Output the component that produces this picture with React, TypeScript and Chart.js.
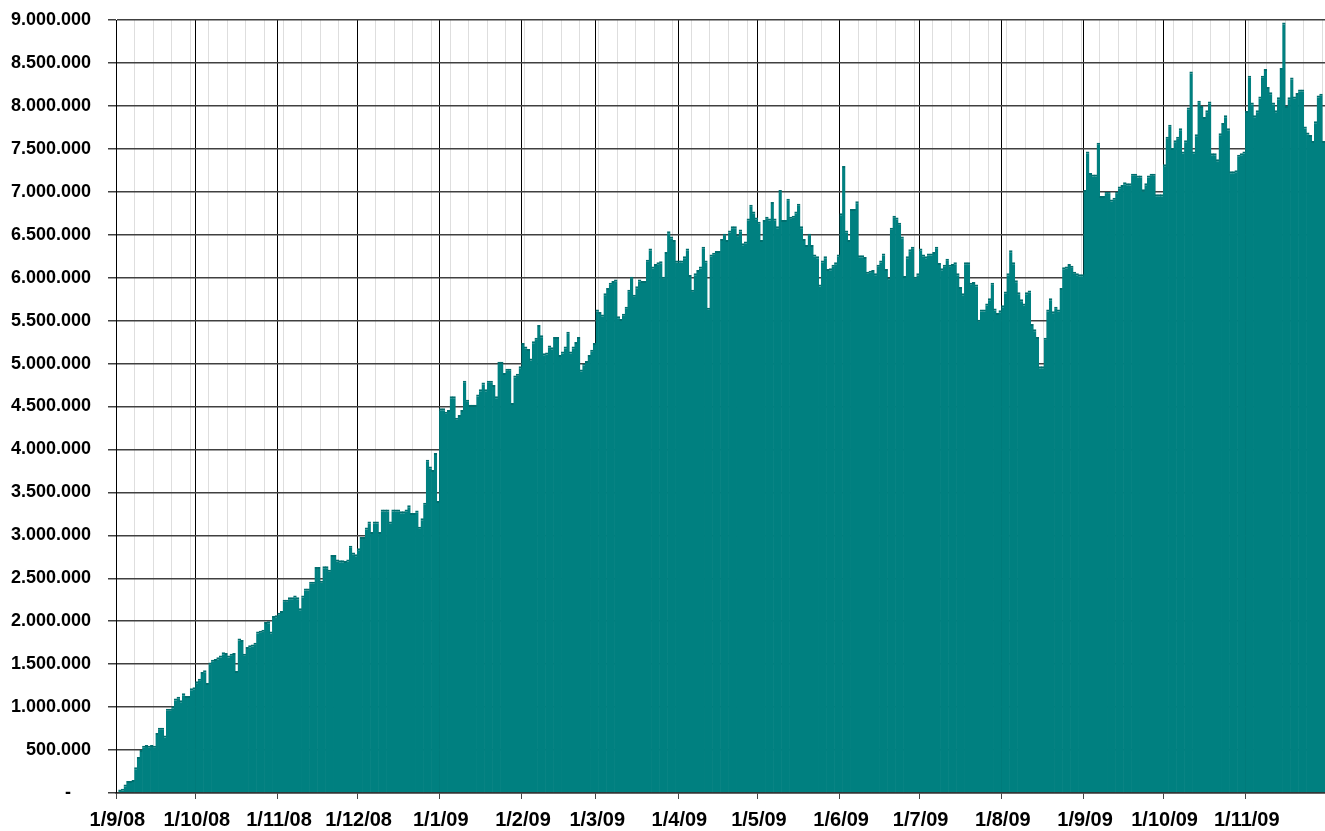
import { useEffect, useRef } from 'react';
import { Chart, registerables } from 'chart.js';

Chart.register(...registerables);

// Daily values in millions, one array per month (Sep 2008 .. Nov 2009)
const sep08 = [0, 0.04, 0.05, 0.10, 0.14, 0.14, 0.15, 0.30, 0.42, 0.50, 0.55, 0.56, 0.55, 0.56, 0.55, 0.70, 0.76, 0.76, 0.67, 0.98, 0.98, 1.01, 1.10, 1.12, 1.08, 1.16, 1.13, 1.13, 1.22, 1.23];
const oct08 = [1.30, 1.33, 1.41, 1.43, 1.28, 1.52, 1.55, 1.56, 1.58, 1.60, 1.64, 1.63, 1.60, 1.62, 1.63, 1.42, 1.80, 1.78, 1.62, 1.70, 1.72, 1.73, 1.75, 1.88, 1.89, 1.90, 1.99, 2.00, 1.88, 2.06, 2.07];
const nov08 = [2.10, 2.12, 2.25, 2.25, 2.28, 2.28, 2.30, 2.28, 2.15, 2.30, 2.38, 2.38, 2.46, 2.46, 2.63, 2.63, 2.47, 2.64, 2.64, 2.60, 2.77, 2.77, 2.72, 2.71, 2.71, 2.70, 2.72, 2.88, 2.80, 2.78];
const dec08 = [2.85, 2.98, 2.98, 3.09, 3.16, 3.04, 3.16, 3.16, 3.04, 3.30, 3.30, 3.30, 3.16, 3.30, 3.30, 3.30, 3.28, 3.28, 3.30, 3.35, 3.26, 3.26, 3.29, 3.10, 3.20, 3.38, 3.88, 3.80, 3.76, 3.96, 3.40];
const jan09 = [4.48, 4.48, 4.44, 4.46, 4.62, 4.62, 4.37, 4.40, 4.46, 4.80, 4.58, 4.52, 4.52, 4.52, 4.64, 4.70, 4.78, 4.70, 4.80, 4.80, 4.75, 4.62, 5.02, 5.02, 4.89, 4.94, 4.94, 4.54, 4.86, 4.88, 4.97];
const feb09 = [5.24, 5.20, 5.17, 5.06, 5.26, 5.30, 5.45, 5.33, 5.12, 5.13, 5.21, 5.19, 5.31, 5.31, 5.10, 5.14, 5.20, 5.37, 5.14, 5.20, 5.25, 5.31, 4.93, 5.00, 5.03, 5.10, 5.16, 5.24];
const mar09 = [5.63, 5.60, 5.57, 5.82, 5.88, 5.94, 5.96, 5.98, 5.55, 5.52, 5.58, 5.66, 5.86, 6.01, 5.80, 5.90, 5.98, 5.96, 5.96, 6.21, 6.34, 6.13, 6.16, 6.18, 6.19, 6.01, 6.30, 6.54, 6.48, 6.44, 6.20];
const apr09 = [6.20, 6.20, 6.25, 6.34, 6.03, 5.86, 6.05, 6.09, 6.13, 6.36, 6.20, 5.65, 6.27, 6.29, 6.31, 6.31, 6.45, 6.51, 6.44, 6.55, 6.60, 6.60, 6.50, 6.56, 6.40, 6.42, 6.69, 6.85, 6.77, 6.70];
const may09 = [6.65, 6.44, 6.67, 6.71, 6.69, 6.88, 6.69, 6.60, 7.02, 6.67, 6.67, 6.92, 6.71, 6.72, 6.77, 6.86, 6.60, 6.45, 6.38, 6.51, 6.38, 6.27, 6.25, 5.92, 6.20, 6.25, 6.10, 6.11, 6.15, 6.18, 6.27];
const jun09 = [6.75, 7.30, 6.55, 6.44, 6.80, 6.80, 6.89, 6.26, 6.26, 6.24, 6.07, 6.08, 6.09, 6.05, 6.15, 6.20, 6.28, 6.10, 6.00, 6.58, 6.72, 6.70, 6.64, 6.48, 6.02, 6.25, 6.33, 6.36, 6.01, 6.05];
const jul09 = [6.34, 6.27, 6.25, 6.28, 6.28, 6.30, 6.36, 6.17, 6.11, 6.15, 6.22, 6.15, 6.16, 6.18, 6.05, 5.89, 5.82, 6.18, 6.18, 5.94, 5.95, 5.92, 5.51, 5.63, 5.63, 5.70, 5.76, 5.94, 5.64, 5.59, 5.62];
const aug09 = [5.68, 5.84, 6.05, 6.32, 6.18, 5.97, 5.83, 5.75, 5.70, 5.83, 5.85, 5.46, 5.40, 5.31, 4.97, 4.97, 5.30, 5.63, 5.76, 5.61, 5.66, 5.63, 5.88, 6.12, 6.13, 6.16, 6.14, 6.07, 6.05, 6.04, 6.04];
const sep09 = [7.02, 7.47, 7.22, 7.20, 7.20, 7.57, 6.95, 6.95, 7.00, 7.00, 6.91, 6.93, 7.00, 7.06, 7.08, 7.11, 7.10, 7.10, 7.21, 7.21, 7.19, 7.19, 7.03, 7.10, 7.19, 7.21, 7.21, 6.97, 6.97, 6.97];
const oct09 = [7.32, 7.64, 7.78, 7.51, 7.60, 7.64, 7.74, 7.47, 7.60, 7.98, 8.40, 7.47, 7.67, 8.06, 8.00, 7.87, 7.95, 8.05, 7.45, 7.45, 7.38, 7.68, 7.80, 7.89, 7.74, 7.24, 7.24, 7.25, 7.43, 7.45, 7.47];
const nov09 = [7.94, 8.35, 8.04, 7.89, 7.95, 8.11, 8.35, 8.43, 8.22, 8.16, 8.04, 7.95, 8.10, 8.44, 8.97, 8.00, 8.10, 8.33, 8.11, 8.15, 8.19, 8.19, 7.76, 7.69, 7.66, 7.59, 7.82, 8.12, 8.14, 7.59];

const monthlySeries = [sep08, oct08, nov08, dec08, jan09, feb09, mar09, apr09, may09, jun09, jul09, aug09, sep09, oct09, nov09];
const firstDay = { year: 2008, month: 8, day: 1 };
const yMax = 9;
const yStep = 0.5;

function fmtMillions(v: number): string {
  if (Math.abs(v) < 1e-9) return '-    ';
  const n = Math.round(v * 1000000);
  return String(n).replace(/\B(?=(\d{3})+(?!\d))/g, '.');
}

export default function App() {
  const ref = useRef<HTMLCanvasElement>(null);

  useEffect(() => {
    document.body.style.margin = '0';
    const values = monthlySeries.flat();
    const labels: string[] = [];
    const monthStart: boolean[] = [];
    const monday: boolean[] = [];
    const dt = new Date(firstDay.year, firstDay.month, firstDay.day);
    for (let i = 0; i <= values.length; i++) {
      labels.push(`${dt.getDate()}/${dt.getMonth() + 1}/${String(dt.getFullYear()).slice(2)}`);
      monthStart.push(dt.getDate() === 1);
      monday.push(dt.getDay() === 1);
      dt.setDate(dt.getDate() + 1);
    }
    const catLabels = labels.slice(0, values.length);

    const font = "'Liberation Sans', Arial, sans-serif";

    const chart = new Chart(ref.current!, {
      type: 'bar',
      data: {
        labels: catLabels,
        datasets: [
          {
            data: values,
            backgroundColor: '#008080',
            borderColor: '#006e6e',
            borderWidth: { top: 2, left: 0, right: 0, bottom: 0 },
            borderSkipped: 'start',
            barPercentage: 1.3,
            categoryPercentage: 1,
          },
        ],
      },
      options: {
        animation: false,
        responsive: true,
        maintainAspectRatio: false,
        layout: { padding: { top: 20, left: 0, right: 0, bottom: 0 } },
        plugins: { legend: { display: false }, tooltip: { enabled: false } },
        scales: {
          x: {
            type: 'category',
            offset: true,
            afterFit: (s: any) => { s.height = 38; },
            grid: {
              offset: true,
              drawOnChartArea: true,
              color: (ctx: any) => {
                const i = ctx.index;
                if (i === undefined || monthStart[i]) return '#000000';
                if (monday[i]) return '#dedede';
                return 'rgba(0,0,0,0)';
              },
              tickColor: (ctx: any) => {
                const i = ctx.index;
                if (i === undefined || monthStart[i]) return '#444444';
                return 'rgba(0,0,0,0)';
              },
              lineWidth: 1,
              tickLength: 6,
            },
            border: { color: '#333333', width: 1.5 },
            ticks: {
              autoSkip: false,
              maxRotation: 0,
              minRotation: 0,
              padding: 0,
              color: '#000',
              font: { family: font, size: 20, weight: 'bold', lineHeight: 2.1 },
              callback: (_v: any, i: number) => (monthStart[i] ? catLabels[i] : ''),
            },
          },
          y: {
            min: 0,
            max: yMax,
            afterFit: (s: any) => { s.width = 116; },
            grid: {
              color: '#404040',
              lineWidth: 1.5,
              tickLength: 25,
              tickColor: '#404040',
              tickBorderDash: [8, 17],
              tickBorderDashOffset: 8,
            },
            border: { color: '#000', width: 1 },
            ticks: {
              stepSize: yStep,
              padding: 0,
              color: '#000',
              font: { family: font, size: 18, weight: 'bold' },
              callback: (v: any) => fmtMillions(Number(v)),
            },
          },
        },
      },
    });
    return () => chart.destroy();
  }, []);

  return (
    <div style={{ width: 1325, height: 831, position: 'relative' }}>
      <canvas ref={ref} />
    </div>
  );
}
